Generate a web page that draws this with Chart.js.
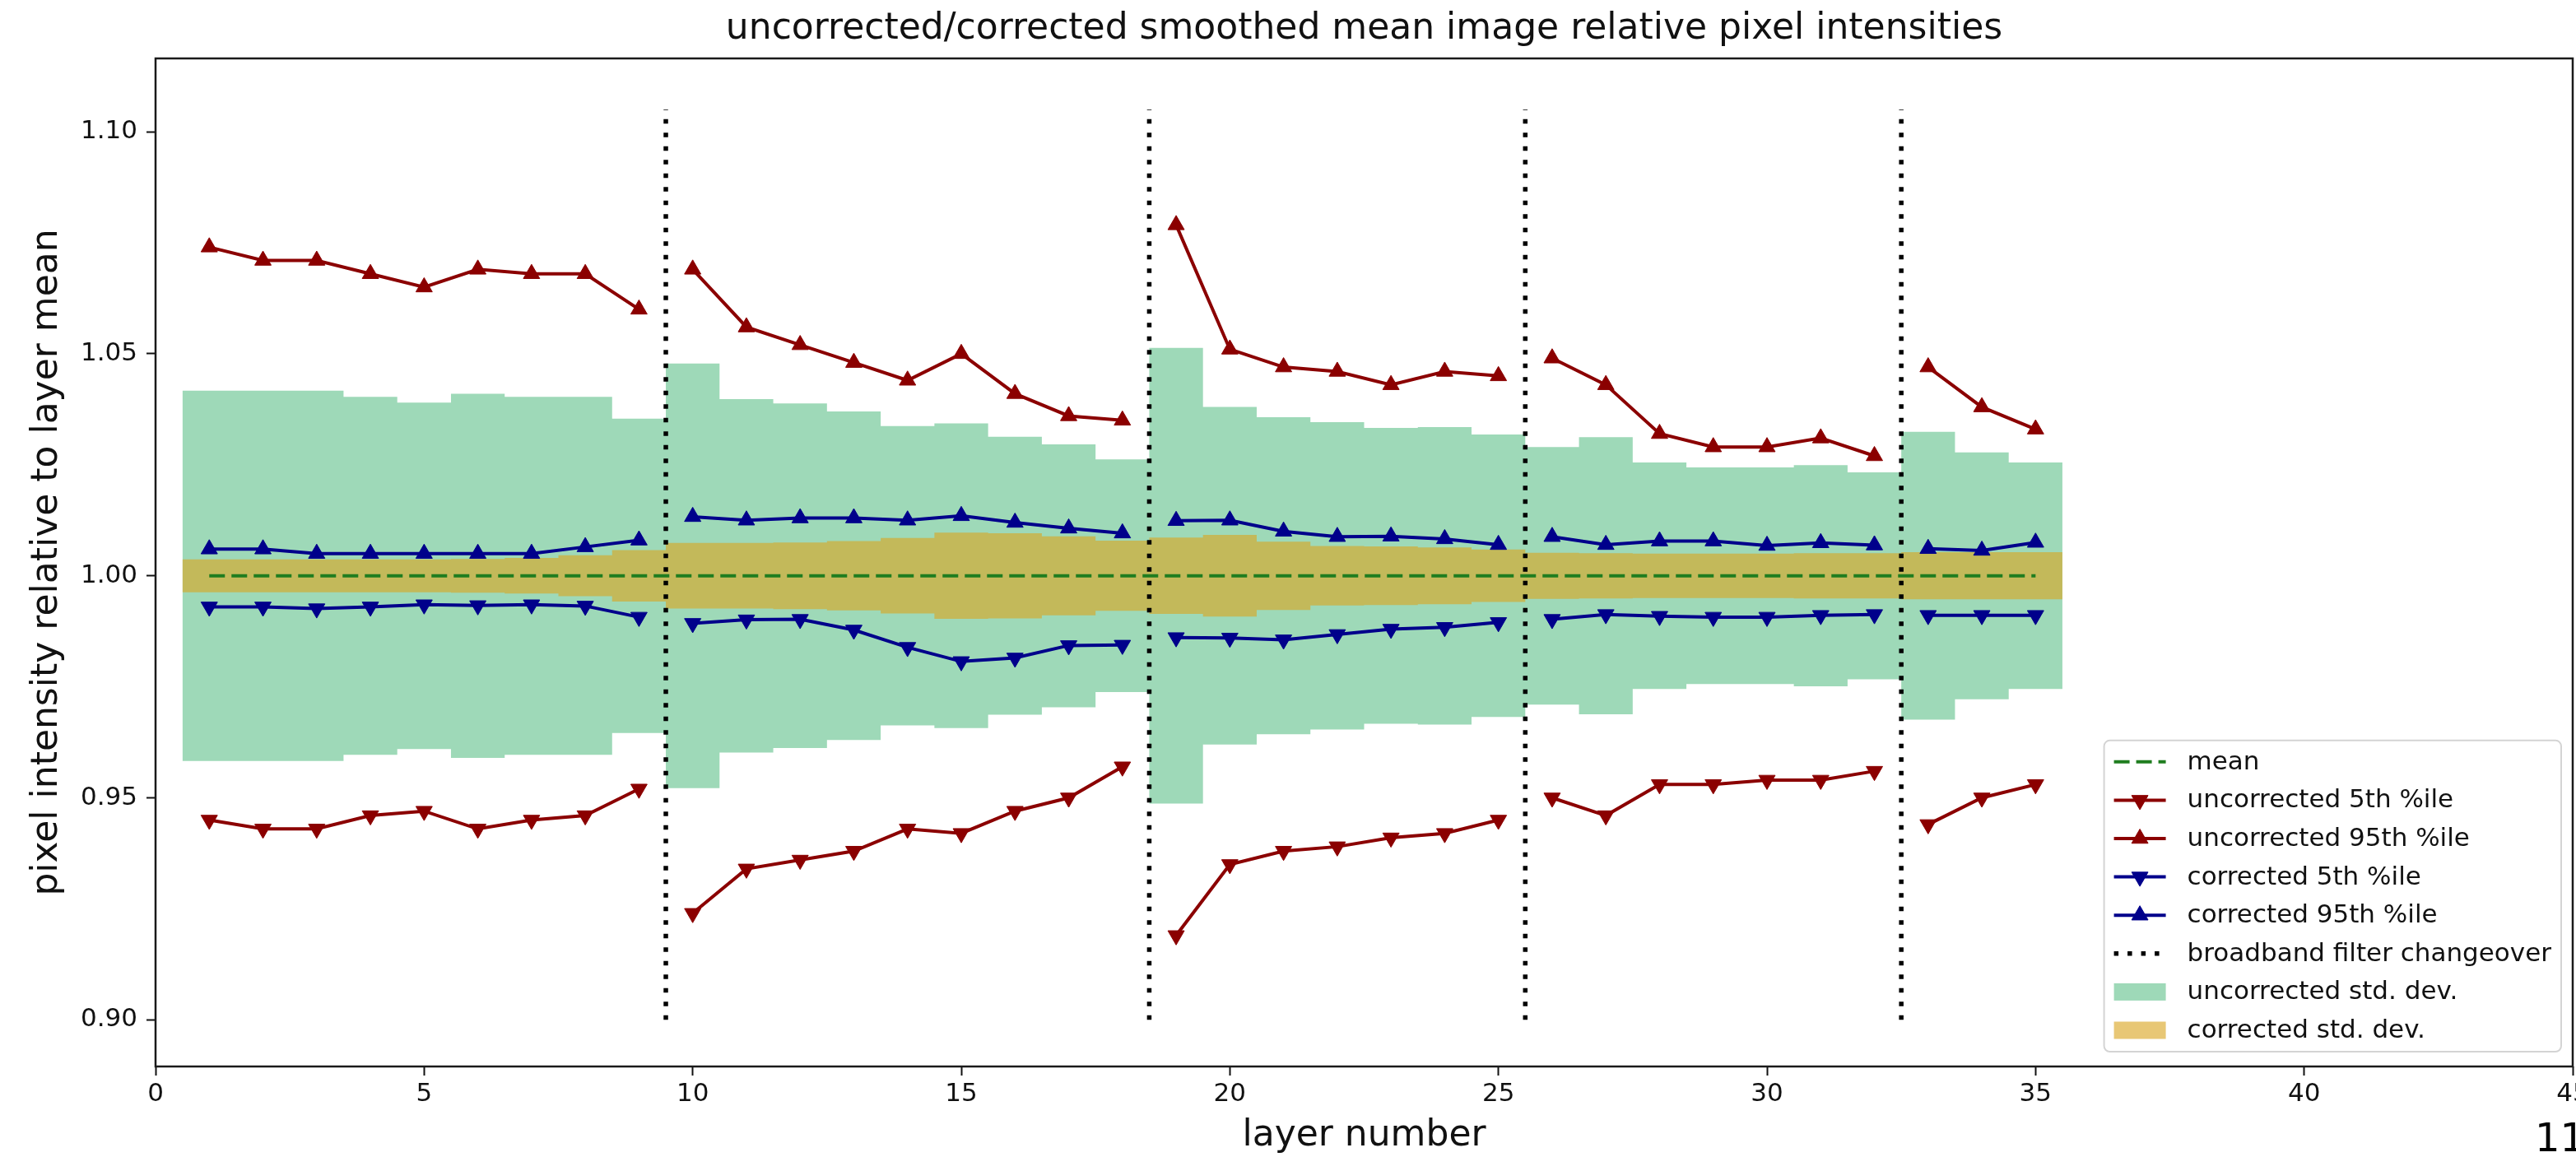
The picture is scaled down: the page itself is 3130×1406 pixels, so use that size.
<!DOCTYPE html>
<html>
<head>
<meta charset="utf-8">
<script src="https://cdn.jsdelivr.net/npm/chart.js@4.4.1/dist/chart.umd.min.js"></script>
<style>
  html, body { margin: 0; padding: 0; background: #fff; }
  #wrap { position: relative; width: 3130px; height: 1406px; overflow: hidden; }
  #pageNo { position: absolute; left: 3080px; top: 1358px; font: 48px/48px 'DejaVu Sans', sans-serif; color: #000; }
</style>
</head>
<body>
<div id="wrap">
  <canvas id="chart" width="3130" height="1406"></canvas>
  <div id="pageNo">11</div>
</div>
<script>
// layer numbers and where the broadband filter changes
const layers = [1, 2, 3, 4, 5, 6, 7, 8, 9, 10, 11, 12, 13, 14, 15, 16, 17, 18,
  19, 20, 21, 22, 23, 24, 25, 26, 27, 28, 29, 30, 31, 32, 33, 34, 35];
const changeovers = [9.5, 18.5, 25.5, 32.5];
const changeoverSpan = [0.90, 1.105];
const meanLevel = 1.0;

const uncorrected5th = [0.945, 0.943, 0.943, 0.946, 0.947, 0.943, 0.945, 0.946, 0.952,
  0.924, 0.934, 0.936, 0.938, 0.943, 0.942, 0.947, 0.950, 0.957,
  0.919, 0.935, 0.938, 0.939, 0.941, 0.942, 0.945,
  0.950, 0.946, 0.953, 0.953, 0.954, 0.954, 0.956,
  0.944, 0.950, 0.953];
const uncorrected95th = [1.074, 1.071, 1.071, 1.068, 1.065, 1.069, 1.068, 1.068, 1.060,
  1.069, 1.056, 1.052, 1.048, 1.044, 1.050, 1.041, 1.036, 1.035,
  1.079, 1.051, 1.047, 1.046, 1.043, 1.046, 1.045,
  1.049, 1.043, 1.032, 1.029, 1.029, 1.031, 1.027,
  1.047, 1.038, 1.033];
const corrected5th = [0.993, 0.993, 0.9926, 0.993, 0.9935, 0.9933, 0.9935, 0.9932, 0.9907,
  0.9893, 0.9901, 0.9902, 0.9878, 0.9839, 0.9807, 0.9815, 0.9843, 0.9844,
  0.9861, 0.9860, 0.9856, 0.9868, 0.9880, 0.9884, 0.9895,
  0.9902, 0.9913, 0.9909, 0.9907, 0.9907, 0.9911, 0.9913,
  0.9911, 0.9911, 0.9911];
const corrected95th = [1.006, 1.006, 1.005, 1.005, 1.005, 1.005, 1.005, 1.0065, 1.008,
  1.0133, 1.0125, 1.013, 1.013, 1.0125, 1.0135, 1.012, 1.0107, 1.0096,
  1.0124, 1.0125, 1.010, 1.0088, 1.0089, 1.0083, 1.007,
  1.0088, 1.007, 1.0078, 1.0078, 1.0068, 1.0074, 1.0069,
  1.0061, 1.0057, 1.0075];
const uncorrectedStd = [0.0417, 0.0417, 0.0417, 0.0403, 0.039, 0.041, 0.0403, 0.0403, 0.0354,
  0.0478, 0.0398, 0.0388, 0.037, 0.0337, 0.0343, 0.0313, 0.0296, 0.0262,
  0.0513, 0.038, 0.0357, 0.0346, 0.0333, 0.0335, 0.0318,
  0.029, 0.0312, 0.0255, 0.0244, 0.0244, 0.0249, 0.0233,
  0.0324, 0.0278, 0.0255];
const correctedStd = [0.0037, 0.0037, 0.0037, 0.0037, 0.0037, 0.0038, 0.004, 0.0046, 0.0058,
  0.0074, 0.0074, 0.0075, 0.0078, 0.0085, 0.0097, 0.0096, 0.0089, 0.0079,
  0.0086, 0.0092, 0.0077, 0.0067, 0.0066, 0.0064, 0.0059,
  0.0052, 0.0051, 0.005, 0.005, 0.005, 0.0051, 0.0051,
  0.0053, 0.0053, 0.0053];

const xTicks = [0, 5, 10, 15, 20, 25, 30, 35, 40, 45];
const yTicks = [0.90, 0.95, 1.00, 1.05, 1.10];

const chartTitle = 'uncorrected/corrected smoothed mean image relative pixel intensities';
const xTitle = 'layer number';
const yTitle = 'pixel intensity relative to layer mean';

const FONT = "'DejaVu Sans', sans-serif";
const RED = '#8b0000';
const BLUE = '#00008b';
const GREEN_LINE = '#1f7d1f';
const UNCORR_FILL = 'rgb(158, 217, 184)';
const CORR_FILL = 'rgba(218, 165, 32, 0.62)';

// line points, broken at each filter changeover
function seriesPoints(values) {
  const pts = [];
  layers.forEach((layer, i) => {
    if (i > 0 && changeovers.some((c) => c > layers[i - 1] && c < layer)) {
      pts.push({ x: (layers[i - 1] + layer) / 2, y: null });
    }
    pts.push({ x: layer, y: values[i] });
  });
  return pts;
}

// mean +/- std drawn as steps a full layer wide
function bandEdge(stds, sign) {
  const pts = [];
  layers.forEach((layer, i) => {
    const y = meanLevel + sign * stds[i];
    pts.push({ x: layer - 0.5, y }, { x: layer + 0.5, y });
  });
  return pts;
}

const changeoverPoints = [];
changeovers.forEach((x, i) => {
  if (i) changeoverPoints.push({ x, y: null });
  changeoverPoints.push({ x, y: changeoverSpan[0] }, { x, y: changeoverSpan[1] });
});

const band = (data, color, fill, order) => ({
  data, fill, order, backgroundColor: color, borderWidth: 0, pointRadius: 0, tension: 0
});
const markerLine = (label, data, color, rotation, order) => ({
  label, data, order, borderColor: color, backgroundColor: color, borderWidth: 4,
  pointStyle: 'triangle', pointRotation: rotation, pointRadius: 11.5, pointBorderWidth: 1,
  pointBackgroundColor: color, pointBorderColor: color, spanGaps: false, fill: false, tension: 0
});

const legendItems = [
  { label: 'mean', kind: 'line', color: GREEN_LINE, dash: [19, 8], width: 4 },
  { label: 'uncorrected 5th %ile', kind: 'marker', color: RED, rotation: 180 },
  { label: 'uncorrected 95th %ile', kind: 'marker', color: RED, rotation: 0 },
  { label: 'corrected 5th %ile', kind: 'marker', color: BLUE, rotation: 180 },
  { label: 'corrected 95th %ile', kind: 'marker', color: BLUE, rotation: 0 },
  { label: 'broadband filter changeover', kind: 'line', color: '#000', dash: [5.5, 11], width: 5.5 },
  { label: 'uncorrected std. dev.', kind: 'patch', color: UNCORR_FILL },
  { label: 'corrected std. dev.', kind: 'patch', color: CORR_FILL }
];

const framePlugin = {
  id: 'frame',
  afterDatasetsDraw(chart) {
    const { ctx, chartArea: a } = chart;
    ctx.save();
    ctx.strokeStyle = '#1a1a1a';
    ctx.lineWidth = 2.5;
    ctx.strokeRect(a.left, a.top, a.right - a.left, a.bottom - a.top);
    ctx.restore();
  }
};

const cornerLegend = {
  id: 'cornerLegend',
  afterDraw(chart) {
    const { ctx, chartArea } = chart;
    const pad = 12, handleW = 63, gap = 26, rowH = 46.6, topPad = 26;
    ctx.save();
    ctx.font = `31px ${FONT}`;
    const textW = Math.max(...legendItems.map((it) => ctx.measureText(it.label).width));
    const w = pad + handleW + gap + textW + pad;
    const h = topPad * 2 + rowH * (legendItems.length - 1);
    const right = chartArea.right - 14;
    const bottom = chartArea.bottom - 18;
    const left = right - w, top = bottom - h;

    ctx.beginPath();
    if (ctx.roundRect) ctx.roundRect(left, top, w, h, 7); else ctx.rect(left, top, w, h);
    ctx.fillStyle = 'rgba(255,255,255,0.85)';
    ctx.fill();
    ctx.strokeStyle = '#d4d4d4';
    ctx.lineWidth = 2;
    ctx.stroke();

    legendItems.forEach((it, i) => {
      const cy = top + topPad + i * rowH;
      const hx = left + pad;
      if (it.kind === 'patch') {
        ctx.fillStyle = it.color;
        ctx.fillRect(hx, cy - 10.5, handleW, 21);
      } else {
        ctx.save();
        ctx.strokeStyle = it.color;
        ctx.lineWidth = it.width || 4;
        ctx.lineCap = 'butt';
        ctx.setLineDash(it.dash || []);
        ctx.beginPath();
        ctx.moveTo(hx, cy);
        ctx.lineTo(hx + handleW, cy);
        ctx.stroke();
        ctx.restore();
        if (it.kind === 'marker') {
          ctx.fillStyle = it.color;
          ctx.strokeStyle = it.color;
          ctx.lineWidth = 1;
          Chart.helpers.drawPoint(ctx, { pointStyle: 'triangle', rotation: it.rotation, radius: 11.5, borderWidth: 1 },
            hx + handleW / 2, cy);
        }
      }
      ctx.fillStyle = '#111';
      ctx.textAlign = 'left';
      ctx.textBaseline = 'middle';
      ctx.fillText(it.label, hx + handleW + gap, cy + 1);
    });
    ctx.restore();
  }
};

Chart.defaults.font.family = FONT;
Chart.defaults.color = '#111';

new Chart(document.getElementById('chart'), {
  type: 'line',
  data: {
    datasets: [
      band(bandEdge(uncorrectedStd, 1), UNCORR_FILL, '+1', 7),
      band(bandEdge(uncorrectedStd, -1), UNCORR_FILL, false, 7),
      band(bandEdge(correctedStd, 1), CORR_FILL, '+1', 6),
      band(bandEdge(correctedStd, -1), CORR_FILL, false, 6),
      {
        label: 'mean', order: 5,
        data: [{ x: layers[0], y: meanLevel }, { x: layers[layers.length - 1], y: meanLevel }],
        borderColor: GREEN_LINE, borderWidth: 4, borderDash: [19, 8], pointRadius: 0, fill: false
      },
      markerLine('uncorrected 5th %ile', seriesPoints(uncorrected5th), RED, 180, 4),
      markerLine('uncorrected 95th %ile', seriesPoints(uncorrected95th), RED, 0, 3),
      markerLine('corrected 5th %ile', seriesPoints(corrected5th), BLUE, 180, 2),
      markerLine('corrected 95th %ile', seriesPoints(corrected95th), BLUE, 0, 1),
      {
        label: 'broadband filter changeover', order: 0, data: changeoverPoints,
        borderColor: '#000', borderWidth: 5.5, borderDash: [5.5, 11], borderCapStyle: 'butt',
        pointRadius: 0, fill: false, spanGaps: false
      }
    ]
  },
  options: {
    responsive: false,
    devicePixelRatio: 1,
    animation: false,
    events: [],
    layout: { autoPadding: false, padding: { left: 0, right: 4, top: 0, bottom: 0 } },
    plugins: {
      legend: { display: false },
      tooltip: { enabled: false },
      title: {
        display: true, text: chartTitle, color: '#111', fullSize: false,
        font: { size: 44, weight: 'normal', lineHeight: 1.2 },
        padding: { top: 9, bottom: 9.2 }
      }
    },
    scales: {
      x: {
        type: 'linear', min: 0, max: 45,
        afterBuildTicks: (scale) => { scale.ticks = xTicks.map((v) => ({ value: v })); },
        afterFit: (scale) => { scale.height = 110; scale.paddingLeft = 0; scale.paddingRight = 0; },
        ticks: { font: { size: 31 }, color: '#111', padding: 4, maxRotation: 0, autoSkip: false,
          callback: (v) => String(v) },
        grid: { drawOnChartArea: false, drawTicks: true, tickLength: 11, tickWidth: 2, tickColor: '#111' },
        border: { display: false },
        title: { display: true, text: xTitle, color: '#111',
          font: { size: 44, lineHeight: 1.1 }, padding: { top: 0, bottom: 1 } }
      },
      y: {
        type: 'linear', min: 0.8895, max: 1.1165,
        afterBuildTicks: (scale) => { scale.ticks = yTicks.map((v) => ({ value: v })); },
        afterFit: (scale) => { scale.width = 189; scale.paddingTop = 0; scale.paddingBottom = 0; },
        ticks: { font: { size: 31 }, color: '#111', padding: 11, autoSkip: false,
          callback: (v) => Number(v).toFixed(2) },
        grid: { drawOnChartArea: false, drawTicks: true, tickLength: 11, tickWidth: 2, tickColor: '#111' },
        border: { display: false },
        title: { display: true, text: yTitle, color: '#111',
          font: { size: 44, lineHeight: 1.1 }, padding: { top: 33, bottom: 0 } }
      }
    }
  },
  plugins: [framePlugin, cornerLegend]
});
</script>
</body>
</html>
